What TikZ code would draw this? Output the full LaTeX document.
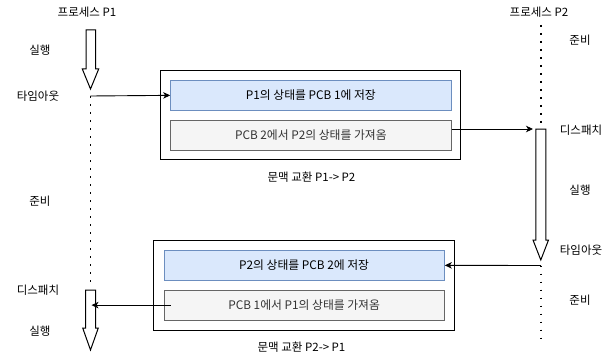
\documentclass[tikz,border=0pt]{standalone}
\usepackage{fontspec}
\setmainfont{Noto Sans CJK KR}
\usetikzlibrary{arrows.meta}
\definecolor{bluefill}{HTML}{DAE8FC}
\definecolor{bluedraw}{HTML}{6C8EBF}
\definecolor{grayfill}{HTML}{F5F5F5}
\definecolor{graydraw}{HTML}{666666}
\definecolor{graytext}{HTML}{333333}
\begin{document}
\begin{tikzpicture}[x=1pt,y=-1pt,
  lbl/.style={font=\fontsize{11.5}{13}\selectfont, inner sep=0pt, anchor=center},
  outerbox/.style={draw=black, line width=1pt, inner sep=0pt, minimum width=300.5pt, minimum height=89.5pt},
  bluebox/.style={draw=bluedraw, fill=bluefill, line width=1pt, inner sep=0pt, minimum width=280.3pt, minimum height=29.8pt, font=\fontsize{11.8}{13}\selectfont, text=black},
  graybox/.style={draw=graydraw, fill=grayfill, line width=1pt, inner sep=0pt, minimum width=280.3pt, minimum height=29.8pt, font=\fontsize{11.8}{13}\selectfont, text=graytext},
  dots/.style={line width=1.6pt, dash pattern=on 1.6pt off 6.4pt},
  conn/.style={line width=0.9pt, -{Stealth[length=7pt,width=6.5pt,inset=2pt]}},
  blockarrow/.style={draw=black, line width=1pt, fill=white, line join=miter}
]
\useasboundingbox (0,0) rectangle (611,361);

% process labels
\node[lbl] (p1) at (87,12) {프로세스 P1};
\node[lbl] (p2) at (539,12) {프로세스 P2};

% left side state labels
\node[lbl] (l1) at (40,50) {실행};
\node[lbl] (l2) at (38,96) {타임아웃};
\node[lbl] (l3) at (40,201.5) {준비};
\node[lbl] (l4) at (38,290.5) {디스패치};
\node[lbl] (l5) at (40,331.5) {실행};

% right side state labels
\node[lbl] (r1) at (580,40) {준비};
\node[lbl] (r2) at (581,130) {디스패치};
\node[lbl] (r3) at (580,190) {실행};
\node[lbl] (r4) at (581,250) {타임아웃};
\node[lbl] (r5) at (580,300.5) {준비};

% context switch boxes
\node[outerbox] (ob1) at (310.35,115) {};
\node[bluebox] (b1) at (310.85,95.35) {P1의 상태를 PCB 1에 저장};
\node[graybox] (g1) at (310.85,135.1) {PCB 2에서 P2의 상태를 가져옴};
\node[lbl] (c1) at (311.5,177) {문맥 교환 P1-> P2};

\node[outerbox] (ob2) at (304.15,285.35) {};
\node[bluebox] (b2) at (304.15,265.35) {P2의 상태를 PCB 2에 저장};
\node[graybox] (g2) at (304.15,305.15) {PCB 1에서 P1의 상태를 가져옴};
\node[lbl] (c2) at (301.5,347) {문맥 교환 P2-> P1};

% block arrows
\draw[blockarrow] (86,30) -- (95.5,30) -- (95.5,69) -- (98.7,69) -- (90.5,89) -- (82.3,69) -- (86,69) -- cycle;
\draw[blockarrow] (85.5,290) -- (95.5,290) -- (95.5,328) -- (98.3,328) -- (90.5,350) -- (82.7,328) -- (85.5,328) -- cycle;
\draw[blockarrow] (535.8,129) -- (545.8,129) -- (545.8,240) -- (548.5,240) -- (540.8,260) -- (533,240) -- (535.8,240) -- cycle;

% dotted lifelines
\coordinate (t1) at (90.5,96);
\coordinate (t1e) at (90.5,284);
\coordinate (d2) at (540.8,128);
\coordinate (d2s) at (540.8,25);
\coordinate (t2) at (540.8,265.5);
\coordinate (t2e) at (540.8,342);
\draw[dots] (t1) -- (t1e);
\draw[dots] (d2s) -- (d2);
\draw[dots] (t2) -- (t2e);

% connectors
\coordinate (a2) at (533,129);
\coordinate (g2s) at (170.7,305.15);
\coordinate (a4) at (91.5,305.15);
\draw[conn] (t1) -- (b1.west);
\draw[conn] (g1.east |- a2) -- (a2);
\draw[conn] (t2) -- (b2.east);
\draw[conn] (g2s) -- (a4);
\end{tikzpicture}
\end{document}
